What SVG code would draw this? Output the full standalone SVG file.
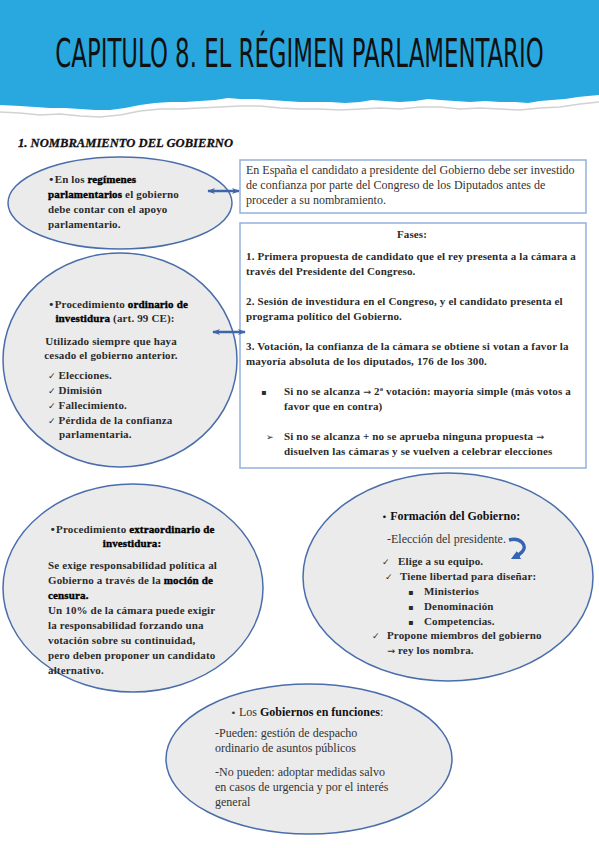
<svg xmlns="http://www.w3.org/2000/svg" width="599" height="848" viewBox="0 0 599 848">
<style>
.c{font-family:"Liberation Serif","DejaVu Serif",serif;font-weight:bold;font-size:11px;letter-spacing:0.15px;fill:#2b2b2b}
.b{fill:#000;stroke:#000;stroke-width:0.35}
.t{font-family:"Liberation Serif","DejaVu Serif",serif;font-size:12px;fill:#333}
.tb{font-weight:bold;fill:#111}
.sym{font-family:"DejaVu Sans",sans-serif;font-weight:normal}
.ar{font-family:"DejaVu Sans",sans-serif;font-weight:normal;font-size:9.5px}
.ell{fill:#ebebeb;stroke:#4a6eab;stroke-width:1.5}
.box{fill:#fff;stroke:#95b1dd;stroke-width:1.5}
.con{stroke:#3f66a8;stroke-width:2.5;fill:none}
</style>
<defs>
<marker id="ah" viewBox="0 0 10 10" refX="9" refY="5" markerWidth="3.2" markerHeight="3.2" orient="auto-start-reverse" markerUnits="strokeWidth">
<path d="M0,1 L10,5 L0,9 L3,5 Z" fill="#3f66a8"/>
</marker>
<marker id="cah" viewBox="0 0 10 10" refX="5" refY="5" markerWidth="2.6" markerHeight="2.6" orient="auto" markerUnits="strokeWidth">
<path d="M0,0 L10,5 L0,10 Z" fill="#3464b4"/>
</marker>
</defs>
<rect width="599" height="848" fill="#fff"/>
<g id="header">
<path d="M0,112 L20,113 L40,115 L60,114 L80,116 L100,117 L120,115 L140,111 L160,109 L180,109 L200,108 L220,107 L240,106 L260,106 L280,108 L300,109 L320,109 L340,110 L360,109 L380,108 L400,109 L420,107 L440,107 L460,109 L480,108 L500,109 L520,110 L540,108 L560,107 L580,104 L599,102" fill="none" stroke="#d2d2d2" stroke-width="1.5"/>
<path d="M0,0 H599 V95 L588,96 L578,97 L565,99 L552,100 L540,101 L528,103 L515,102 L500,102 L485,101 L470,102 L455,101 L440,100 L428,99 L415,101 L400,102 L385,101 L372,100 L360,102 L345,103 L330,102 L315,102 L300,102 L285,101 L270,100 L255,99 L240,99 L228,98 L215,100 L200,101 L185,102 L170,102 L155,103 L140,105 L125,108 L110,110 L95,110 L80,109 L65,108 L50,108 L35,107 L20,106 L0,105 Z" fill="#29a8e0"/>
<text transform="translate(299.5,67) scale(1,1.55)" x="0" y="0" text-anchor="middle" font-family="'DejaVu Sans Condensed','DejaVu Sans',sans-serif" font-size="25.4" fill="#111">CAPITULO 8. EL RÉGIMEN PARLAMENTARIO</text>
</g>
<g id="heading">
<text x="18" y="147" font-family="'Liberation Serif',serif" font-weight="bold" font-style="italic" font-size="12.5" fill="#111" stroke="#111" stroke-width="0.3" textLength="215" lengthAdjust="spacingAndGlyphs">1.  NOMBRAMIENTO DEL GOBIERNO</text>
</g>
<g id="n-parlamentario">
<ellipse cx="120" cy="203" rx="112" ry="46" class="ell"/>
<text class="c" x="48" y="183"><tspan class="sym">•</tspan>En los <tspan class="b">regímenes</tspan></text>
<text class="c" x="48" y="198"><tspan class="b">parlamentarios</tspan> el gobierno</text>
<text class="c" x="48" y="213">debe contar con el apoyo</text>
<text class="c" x="48" y="228">parlamentario.</text>
</g>
<g id="n-espana">
<rect x="240" y="160" width="346" height="53" class="box"/>
<text class="t" x="246" y="174" font-size="11.5">En España el candidato a presidente del Gobierno debe ser investido</text>
<text class="t" x="246" y="189" font-size="11.5">de confianza por parte del Congreso de los Diputados antes de</text>
<text class="t" x="246" y="204" font-size="11.5">proceder a su nombramiento.</text>
</g>
<g id="n-ordinario">
<ellipse cx="120" cy="360" rx="117" ry="107" class="ell"/>
<text class="c" x="118" y="308" text-anchor="middle"><tspan class="sym">•</tspan>Procedimiento <tspan class="b">ordinario de</tspan></text>
<text class="c" x="115" y="322" text-anchor="middle"><tspan class="b">investidura</tspan> (art. 99 CE):</text>
<text class="c" x="111" y="345" text-anchor="middle">Utilizado siempre que haya</text>
<text class="c" x="111" y="359" text-anchor="middle">cesado el gobierno anterior.</text>
<text class="c" x="48" y="379"><tspan class="sym" font-size="9">✓</tspan> Elecciones.</text>
<text class="c" x="48" y="394"><tspan class="sym" font-size="9">✓</tspan> Dimisión</text>
<text class="c" x="48" y="409"><tspan class="sym" font-size="9">✓</tspan> Fallecimiento.</text>
<text class="c" x="48" y="424"><tspan class="sym" font-size="9">✓</tspan> Pérdida de la confianza</text>
<text class="c" x="59" y="438">parlamentaria.</text>
</g>
<g id="n-fases">
<rect x="240" y="223" width="346" height="245" class="box"/>
<text class="c" x="412" y="238" text-anchor="middle" font-size="11.5">Fases:</text>
<text class="c" x="246" y="260">1. Primera propuesta de candidato que el rey presenta a la cámara a</text>
<text class="c" x="246" y="275">través del Presidente del Congreso.</text>
<text class="c" x="246" y="305">2. Sesión de investidura en el Congreso, y el candidato presenta el</text>
<text class="c" x="246" y="320">programa político del Gobierno.</text>
<text class="c" x="246" y="350">3. Votación, la confianza de la cámara se obtiene si votan a favor la</text>
<text class="c" x="246" y="365">mayoría absoluta de los diputados, 176 de los 300.</text>
<text class="c" x="261" y="395"><tspan class="sym" font-size="8">▪</tspan></text>
<text class="c" x="284" y="395">Si no se alcanza <tspan class="ar">→</tspan> 2ª votación: mayoría simple (más votos a</text>
<text class="c" x="284" y="410">favor que en contra)</text>
<text class="c" x="266" y="440"><tspan class="sym" font-size="9">➢</tspan></text>
<text class="c" x="284" y="440">Si no se alcanza + no se aprueba ninguna propuesta <tspan class="ar">→</tspan></text>
<text class="c" x="284" y="455">disuelven las cámaras y se vuelven a celebrar elecciones</text>
</g>
<g id="n-extraordinario">
<ellipse cx="133" cy="588" rx="130" ry="104" class="ell"/>
<text class="c" x="132" y="533" text-anchor="middle"><tspan class="sym">•</tspan>Procedimiento <tspan class="b">extraordinario de</tspan></text>
<text class="c" x="132" y="547" text-anchor="middle"><tspan class="b">investidura:</tspan></text>
<text class="c" x="48" y="569">Se exige responsabilidad política al</text>
<text class="c" x="48" y="584">Gobierno a través de la <tspan class="b">moción de</tspan></text>
<text class="c" x="48" y="599"><tspan class="b">censura.</tspan></text>
<text class="c" x="48" y="614">Un 10% de la cámara puede exigir</text>
<text class="c" x="48" y="629">la responsabilidad forzando una</text>
<text class="c" x="48" y="644">votación sobre su continuidad,</text>
<text class="c" x="48" y="659">pero deben proponer un candidato</text>
<text class="c" x="48" y="674">alternativo.</text>
</g>
<g id="n-formacion">
<ellipse cx="448" cy="577" rx="145" ry="104" class="ell"/>
<text class="t tb" x="451" y="520" text-anchor="middle" font-size="12.5"><tspan class="sym" font-size="9">•</tspan> Formación del Gobierno:</text>
<text class="t" x="387" y="543">-Elección del presidente.</text>
<path d="M509,540 C521,537 528,546 522,552 C519,555 517,556 515,557" fill="none" stroke="#3464b4" stroke-width="3.5" marker-end="url(#cah)"/>
<text class="c" x="382" y="565"><tspan class="sym" font-size="9">✓</tspan></text>
<text class="c" x="398" y="565">Elige a su equipo.</text>
<text class="c" x="385" y="580"><tspan class="sym" font-size="9">✓</tspan></text>
<text class="c" x="400" y="580">Tiene libertad para diseñar:</text>
<text class="c" x="408" y="595"><tspan class="sym" font-size="8">▪</tspan></text>
<text class="c" x="424" y="595">Ministerios</text>
<text class="c" x="408" y="610"><tspan class="sym" font-size="8">▪</tspan></text>
<text class="c" x="424" y="610">Denominación</text>
<text class="c" x="408" y="625"><tspan class="sym" font-size="8">▪</tspan></text>
<text class="c" x="424" y="625">Competencias.</text>
<text class="c" x="372" y="639"><tspan class="sym" font-size="9">✓</tspan></text>
<text class="c" x="387" y="639">Propone miembros del gobierno</text>
<text class="c" x="387" y="654"><tspan class="ar">→</tspan> rey los nombra.</text>
</g>
<g id="n-funciones">
<ellipse cx="309" cy="759" rx="143" ry="75" class="ell"/>
<text class="t" x="307" y="716" text-anchor="middle"><tspan class="sym" font-size="9">•</tspan> Los <tspan class="tb">Gobiernos en funciones</tspan>:</text>
<text class="t" x="215" y="737">-Pueden: gestión de despacho</text>
<text class="t" x="215" y="752">ordinario de asuntos públicos</text>
<text class="t" x="215" y="776">-No pueden: adoptar medidas salvo</text>
<text class="t" x="215" y="791">en casos de urgencia y por el interés</text>
<text class="t" x="215" y="806">general</text>
</g>
<g id="connectors">
<line x1="208" y1="191" x2="239" y2="191" class="con" marker-start="url(#ah)" marker-end="url(#ah)"/>
<line x1="213" y1="332" x2="245" y2="332" class="con" marker-start="url(#ah)" marker-end="url(#ah)"/>
</g>
</svg>
